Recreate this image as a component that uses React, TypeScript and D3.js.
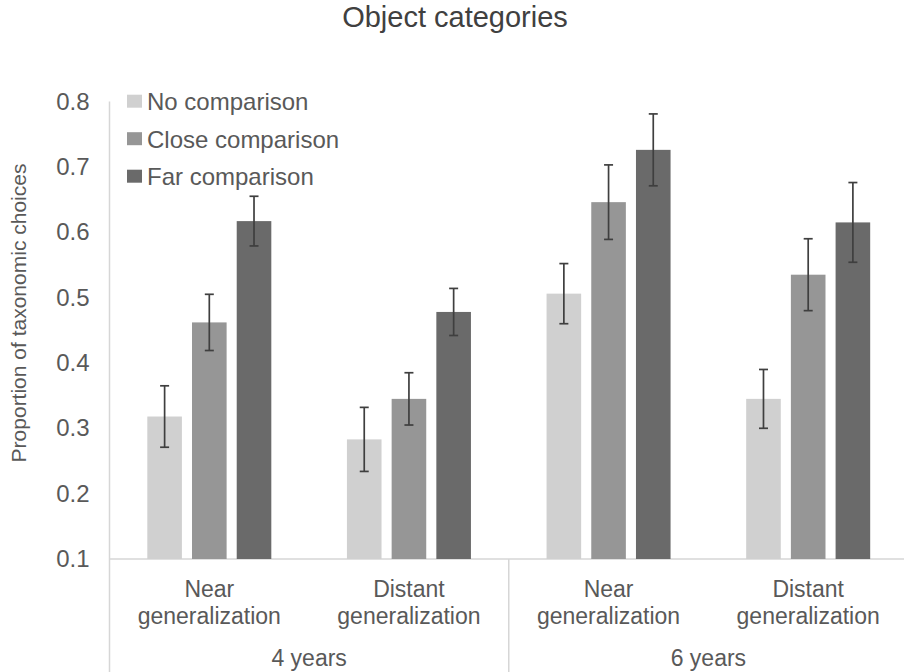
import React, { useEffect, useRef } from "react";
import * as d3 from "d3";

// values
const categoryKeys = ["4-near", "4-distant", "6-near", "6-distant"];
const categoryLines = [
  ["Near", "generalization"],
  ["Distant", "generalization"],
  ["Near", "generalization"],
  ["Distant", "generalization"]
];
const ageGroups = ["4 years", "6 years"];
const seriesNames = ["No comparison", "Close comparison", "Far comparison"];
const seriesColors = ["#d0d0d0", "#969696", "#6a6a6a"];

const noComparison = [0.318, 0.283, 0.506, 0.345];
const closeComparison = [0.462, 0.345, 0.646, 0.535];
const farComparison = [0.617, 0.478, 0.726, 0.615];

const noComparisonErr = [0.047, 0.049, 0.046, 0.045];
const closeComparisonErr = [0.043, 0.04, 0.057, 0.055];
const farComparisonErr = [0.038, 0.036, 0.055, 0.061];

const yTicks = [0.1, 0.2, 0.3, 0.4, 0.5, 0.6, 0.7, 0.8];

const FONT = "'Liberation Sans', Arial, sans-serif";
const TEXT = "#595959";
const AXIS = "#d6d6d6";

const App = () => {
  const ref = useRef<SVGSVGElement>(null);

  useEffect(() => {
    document.body.style.margin = "0";
    const width = 904;
    const height = 672;
    const svg = d3.select(ref.current);
    svg.selectAll("*").remove();

    const values = [noComparison, closeComparison, farComparison];
    const errors = [noComparisonErr, closeComparisonErr, farComparisonErr];

    const plotLeft = 109.5;
    const plotRight = 908;
    const plotTop = 101.5;
    const plotBottom = 559;

    const yScale = d3.scaleLinear().domain([0.1, 0.8]).range([plotBottom, plotTop]);
    const x0 = d3.scaleBand().domain(categoryKeys).range([plotLeft, plotRight]);
    const half = x0.bandwidth() / 2;
    const x1 = d3
      .scaleBand()
      .domain(seriesNames)
      .range([half - 62, half + 62])
      .paddingInner(0.226);

    // title
    svg
      .append("text")
      .attr("x", 455)
      .attr("y", 27)
      .attr("text-anchor", "middle")
      .style("font-family", FONT)
      .style("font-size", "29px")
      .style("fill", "#404040")
      .text("Object categories");

    // y axis title
    svg
      .append("text")
      .attr("transform", "translate(26, 313) rotate(-90)")
      .attr("text-anchor", "middle")
      .style("font-family", FONT)
      .style("font-size", "21px")
      .style("fill", TEXT)
      .text("Proportion of taxonomic choices");

    // y axis labels
    const yAxis = svg
      .append("g")
      .attr("transform", `translate(${plotLeft}, 0)`)
      .call(
        d3
          .axisLeft(yScale)
          .tickValues(yTicks)
          .tickSize(0)
          .tickPadding(20)
          .tickFormat(d3.format(".1f"))
      );
    yAxis.select(".domain").remove();
    yAxis
      .selectAll("text")
      .style("font-family", FONT)
      .style("font-size", "24px")
      .style("fill", TEXT);

    // axis lines
    const lines = svg.append("g").attr("stroke", AXIS).attr("stroke-width", 1.5);
    lines
      .append("line")
      .attr("x1", plotLeft)
      .attr("x2", plotLeft)
      .attr("y1", plotTop)
      .attr("y2", height);
    lines
      .append("line")
      .attr("x1", plotLeft)
      .attr("x2", width)
      .attr("y1", plotBottom)
      .attr("y2", plotBottom);
    lines
      .append("line")
      .attr("x1", x0(categoryKeys[2]))
      .attr("x2", x0(categoryKeys[2]))
      .attr("y1", plotBottom)
      .attr("y2", height);

    // bars
    const groups = svg
      .selectAll("g.cat")
      .data(categoryKeys)
      .enter()
      .append("g")
      .attr("class", "cat")
      .attr("transform", d => `translate(${x0(d)}, 0)`);

    seriesNames.forEach((name, s) => {
      groups
        .append("rect")
        .attr("x", x1(name))
        .attr("y", (d, i) => yScale(values[s][i]))
        .attr("width", x1.bandwidth())
        .attr("height", (d, i) => plotBottom - yScale(values[s][i]))
        .attr("fill", seriesColors[s]);
    });

    // error bars
    seriesNames.forEach((name, s) => {
      const cx = x1(name) + x1.bandwidth() / 2;
      const eb = groups.append("g").attr("stroke", "#3f3f3f").attr("stroke-width", 1.7);
      eb.append("line")
        .attr("x1", cx)
        .attr("x2", cx)
        .attr("y1", (d, i) => yScale(values[s][i] + errors[s][i]))
        .attr("y2", (d, i) => yScale(values[s][i] - errors[s][i]));
      [1, -1].forEach(sign => {
        eb.append("line")
          .attr("x1", cx - 4.5)
          .attr("x2", cx + 4.5)
          .attr("y1", (d, i) => yScale(values[s][i] + sign * errors[s][i]))
          .attr("y2", (d, i) => yScale(values[s][i] + sign * errors[s][i]));
      });
    });

    // category labels
    groups.each(function (d, i) {
      const g = d3.select(this);
      categoryLines[i].forEach((line, j) => {
        g.append("text")
          .attr("x", half)
          .attr("y", 597 + j * 27)
          .attr("text-anchor", "middle")
          .style("font-family", FONT)
          .style("font-size", "23px")
          .style("fill", TEXT)
          .text(line);
      });
    });

    // age group labels
    ageGroups.forEach((label, k) => {
      const left = x0(categoryKeys[k * 2]);
      const right = x0(categoryKeys[k * 2 + 1]) + x0.bandwidth();
      svg
        .append("text")
        .attr("x", (left + right) / 2)
        .attr("y", 666)
        .attr("text-anchor", "middle")
        .style("font-family", FONT)
        .style("font-size", "23px")
        .style("fill", TEXT)
        .text(label);
    });

    // legend
    const legend = svg.append("g").attr("transform", "translate(127, 101.7)");
    seriesNames.forEach((name, s) => {
      const row = legend.append("g").attr("transform", `translate(0, ${s * 37.5})`);
      row
        .append("rect")
        .attr("x", 0)
        .attr("y", -7)
        .attr("width", 15)
        .attr("height", 13)
        .attr("fill", seriesColors[s]);
      row
        .append("text")
        .attr("x", 20)
        .attr("y", 0)
        .attr("dy", "0.35em")
        .style("font-family", FONT)
        .style("font-size", "24px")
        .style("fill", TEXT)
        .text(name);
    });
  }, []);

  return <svg ref={ref} width={904} height={672} style={{ display: "block" }} />;
};

export default App;
